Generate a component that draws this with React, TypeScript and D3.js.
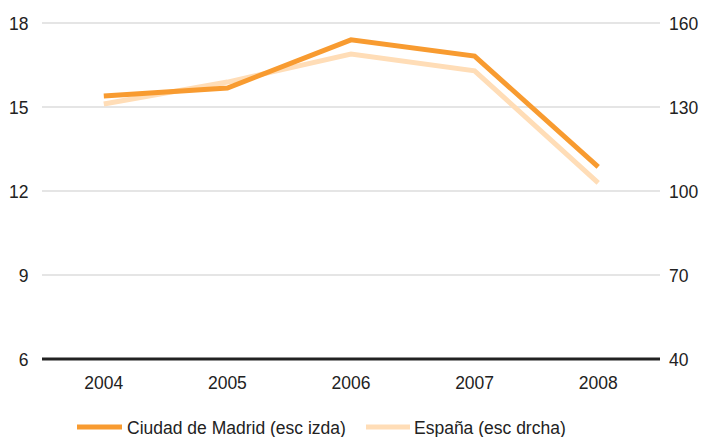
import React from "react";
import * as d3 from "d3";

const years = ["2004", "2005", "2006", "2007", "2008"];
const madrid = [15.39, 15.68, 17.4, 16.82, 12.86];
const espana = [131.1, 138.9, 148.9, 142.9, 102.9];
const leftTicks = [6, 9, 12, 15, 18];
const rightTicks = [40, 70, 100, 130, 160];

const W = 706, H = 437;
const left = 42, right = 660, top = 23, bottom = 359;

export default function App() {
  const x = d3.scaleBand<string>().domain(years).range([left, right]);
  const yL = d3.scaleLinear().domain([6, 18]).range([bottom, top]);
  const yR = d3.scaleLinear().domain([40, 160]).range([bottom, top]);
  const cx = (d: string) => (x(d) as number) + x.bandwidth() / 2;
  const lineL = d3.line<number>().x((_, i) => cx(years[i])).y((d) => yL(d));
  const lineR = d3.line<number>().x((_, i) => cx(years[i])).y((d) => yR(d));
  const font = "'Liberation Sans', Arial, sans-serif";
  const fs = 17.5;
  return (
    <svg width={W} height={H} style={{ position: "absolute", left: 0, top: 0 }} fontFamily={font}>
      {leftTicks.map((t) =>
        t === 6 ? null : (
          <line key={t} x1={left} x2={right} y1={yL(t)} y2={yL(t)} stroke="#dcdcdc" strokeWidth={1.5} />
        )
      )}
      {leftTicks.map((t) => (
        <text key={t} x={28.5} y={yL(t) + 6.5} textAnchor="end" fontSize={fs} fill="#222">{t}</text>
      ))}
      {rightTicks.map((t) => (
        <text key={t} x={669} y={yR(t) + 6.5} textAnchor="start" fontSize={fs} fill="#222">{t}</text>
      ))}
      {years.map((yr) => (
        <text key={yr} x={cx(yr)} y={389} textAnchor="middle" fontSize={fs} fill="#222">{yr}</text>
      ))}
      <path d={lineR(espana) || ""} fill="none" stroke="#FFDDB7" strokeWidth={5} />
      <path d={lineL(madrid) || ""} fill="none" stroke="#F89B30" strokeWidth={5} />
      <line x1={left} x2={right} y1={bottom} y2={bottom} stroke="#222" strokeWidth={3} />
      <line x1={77} x2={122} y1={427} y2={427} stroke="#F89B30" strokeWidth={5} />
      <text x={127} y={434} fontSize={fs} fill="#222">Ciudad de Madrid (esc izda)</text>
      <line x1={366} x2={410} y1={427} y2={427} stroke="#FFDDB7" strokeWidth={5} />
      <text x={414} y={434} fontSize={fs} fill="#222">España (esc drcha)</text>
    </svg>
  );
}
